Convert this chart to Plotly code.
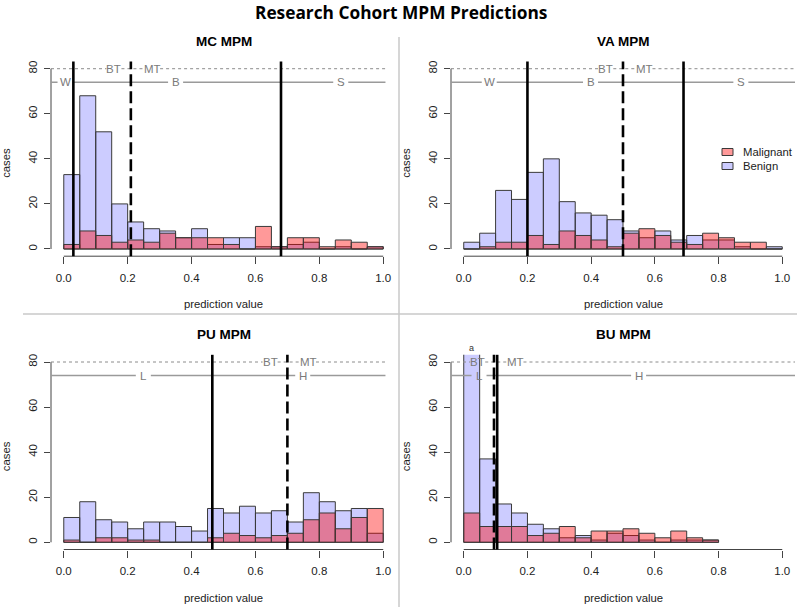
import numpy as np
import plotly.graph_objects as go

# ---------------- data ----------------
bin_edges = np.round(np.arange(0, 1.0001, 0.05), 2)
bin_centers = (bin_edges[:-1] + bin_edges[1:]) / 2
bin_width = 0.05

panel_titles = ["MC MPM", "VA MPM", "PU MPM", "BU MPM"]

mc_benign    = [33, 68, 52, 20, 12, 9, 8, 5, 9, 2, 5, 5, 1, 1, 2, 3, 0, 1, 0, 1]
mc_malignant = [2, 8, 6, 3, 4, 3, 7, 5, 5, 5, 2, 0, 10, 1, 5, 5, 1, 4, 3, 1]

va_benign    = [3, 7, 26, 22, 34, 40, 21, 16, 15, 13, 8, 5, 8, 4, 6, 4, 4, 1, 0, 1]
va_malignant = [0, 1, 3, 3, 6, 2, 8, 6, 4, 1, 7, 9, 6, 3, 2, 7, 5, 3, 3, 0]

pu_benign    = [11, 18, 10, 9, 6, 9, 9, 7, 5, 15, 13, 16, 13, 14, 9, 22, 18, 14, 15, 4]
pu_malignant = [1, 0, 2, 2, 1, 1, 0, 0, 0, 2, 4, 3, 2, 3, 4, 10, 13, 6, 11, 15]

# BU histogram only spans 0.0-0.8 (no bins beyond)
bu_benign    = [95, 37, 17, 13, 8, 6, 2, 3, 1, 4, 3, 1, 0, 1, 1, 1, None, None, None, None]
bu_malignant = [13, 7, 7, 7, 3, 4, 7, 2, 5, 5, 6, 4, 2, 5, 2, 1, None, None, None, None]

benign_series = [mc_benign, va_benign, pu_benign, bu_benign]
malignant_series = [mc_malignant, va_malignant, pu_malignant, bu_malignant]

# threshold lines (solid / dashed)
solid_thresholds = [[0.03, 0.68], [0.20, 0.69], [0.465], [0.105]]
dashed_thresholds = [[0.21], [0.50], [0.70], [0.095]]

# labels on the dotted (y=80) and solid (y=74) reference lines
dotted_labels = [[(0.157, "BT"), (0.278, "MT")],
                 [(0.446, "BT"), (0.569, "MT")],
                 [(0.646, "BT"), (0.766, "MT")],
                 [(0.044, "BT"), (0.164, "MT")]]
solid_labels = [[(0.004, "W"), (0.35, "B"), (0.867, "S")],
                [(0.080, "W"), (0.398, "B"), (0.870, "S")],
                [(0.249, "L"), (0.748, "H")],
                [(0.048, "L"), (0.549, "H")]]
dotted_y = 80
solid_y = 74

x_tickvals = [0, 0.2, 0.4, 0.6, 0.8, 1.0]
x_ticktext = ["0.0", "0.2", "0.4", "0.6", "0.8", "1.0"]
y_tickvals = [0, 20, 40, 60, 80]
y_ticktext = ["0", "20", "40", "60", "80"]

legend_labels = ["Malignant", "Benign"]

# ---------------- layout geometry (pixels) ----------------
W, H = 800, 607
def px(x):
    return x / W
def py(y):
    return 1 - y / H

x_doms_px = [(51, 396), (451, 795), (51, 396), (451, 795)]
y_doms_px = [(61.5, 256.2), (61.5, 256.2), (354.8, 549.5), (354.8, 549.5)]
line_right_end = [1.007, 1.04, 1.007, 1.04]

BENIGN_COL = "rgba(0,0,255,0.2)"
MALIG_COL = "rgba(255,0,0,0.4)"
EDGE_COL = "#3a3a3a"
GRAY = "#8c8c8c"
FONT = "Liberation Sans, Arial, sans-serif"

fig = go.Figure()
layout = dict(
    width=W, height=H, margin=dict(l=0, r=0, t=0, b=0),
    paper_bgcolor="white", plot_bgcolor="white",
    barmode="overlay", showlegend=False,
    font=dict(family=FONT, size=11.5, color="#222"),
)
shapes = []
annotations = []

for i in range(4):
    xa = "x" if i == 0 else f"x{i+1}"
    ya = "y" if i == 0 else f"y{i+1}"
    xkey = "xaxis" if i == 0 else f"xaxis{i+1}"
    ykey = "yaxis" if i == 0 else f"yaxis{i+1}"

    fig.add_trace(go.Bar(x=bin_centers, y=benign_series[i], width=bin_width,
                         marker=dict(color=BENIGN_COL, line=dict(color=EDGE_COL, width=1)),
                         xaxis=xa, yaxis=ya, name="Benign"))
    fig.add_trace(go.Bar(x=bin_centers, y=malignant_series[i], width=bin_width,
                         marker=dict(color=MALIG_COL, line=dict(color=EDGE_COL, width=1)),
                         xaxis=xa, yaxis=ya, name="Malignant"))

    x0p, x1p = x_doms_px[i]
    y0p, y1p = y_doms_px[i]
    layout[xkey] = dict(domain=[px(x0p), px(x1p)], range=[-0.04, 1.04], anchor=ya,
                        showgrid=False, zeroline=False, showline=False,
                        ticks="outside", ticklen=7, tickwidth=1, tickcolor="#444",
                        tickvals=x_tickvals, ticktext=x_ticktext, ticklabelstandoff=4,
                        tickfont=dict(size=11.5, color="#222"), fixedrange=True)
    layout[ykey] = dict(domain=[py(y1p), py(y0p)], range=[-3.2, 83.2], anchor=xa,
                        showgrid=False, zeroline=False, showline=False,
                        ticks="outside", ticklen=6, tickwidth=1, tickcolor="#444",
                        tickvals=y_tickvals, ticktext=y_ticktext, tickangle=-90,
                        ticklabelstandoff=2,
                        tickfont=dict(size=11.5, color="#222"), fixedrange=True)

    # R-style axis lines (only between first and last tick)
    shapes.append(dict(type="line", xref=xa, yref=f"{ya} domain", x0=0, x1=1, y0=0, y1=0,
                       line=dict(color="#444", width=1)))
    shapes.append(dict(type="line", xref=f"{xa} domain", yref=ya, x0=0, x1=0, y0=0, y1=80,
                       line=dict(color="#444", width=1)))

    # reference lines with gaps around labels
    def segs(labels, yv, dash):
        half = 7.5 / 319
        pos = [-0.04]
        for (lx, _t) in sorted(labels):
            pos += [lx - half, lx + half]
        pos.append(line_right_end[i])
        for k in range(0, len(pos), 2):
            a, b = pos[k], pos[k + 1]
            if b > a:
                shapes.append(dict(type="line", xref=xa, yref=ya, x0=a, x1=b, y0=yv, y1=yv,
                                   line=dict(color=GRAY if dash else "#9a9a9a",
                                             width=1 if dash else 1.4,
                                             dash="3px,3px" if dash else "solid")))
        for (lx, t) in labels:
            annotations.append(dict(x=lx, y=yv, xref=xa, yref=ya, text=t, showarrow=False,
                                    font=dict(size=11.5, color="#7a7a7a", family=FONT)))
    segs(dotted_labels[i], dotted_y, True)
    segs(solid_labels[i], solid_y, False)

    for t in solid_thresholds[i]:
        shapes.append(dict(type="line", xref=xa, yref=f"{ya} domain", x0=t, x1=t, y0=0, y1=1,
                           line=dict(color="black", width=2.6)))
    for t in dashed_thresholds[i]:
        shapes.append(dict(type="line", xref=xa, yref=f"{ya} domain", x0=t, x1=t, y0=0, y1=1,
                           line=dict(color="black", width=2.6, dash="12px,5px")))

    # panel title
    annotations.append(dict(x=0.5, xref=xa, y=py(y0p - 20), yref="paper", text=f"<b>{panel_titles[i]}</b>",
                            showarrow=False, font=dict(size=13.5, color="black", family=FONT),
                            yanchor="middle"))
    # axis titles
    annotations.append(dict(x=0.5, xref=xa, y=py(y1p + 48), yref="paper", text="prediction value",
                            showarrow=False, font=dict(size=11.3, color="#222", family=FONT),
                            yanchor="middle"))
    annotations.append(dict(x=px(x0p - 45), xref="paper", y=py((y0p + y1p) / 2 + 4), yref="paper",
                            text="cases", textangle=-90, showarrow=False,
                            font=dict(size=11.3, color="#222", family=FONT),
                            xanchor="center", yanchor="middle"))

# "a" marker above clipped BU bar
annotations.append(dict(x=bin_centers[0], xref="x4", y=py(348), yref="paper", text="a",
                        showarrow=False, font=dict(size=9, color="#333", family=FONT)))

# legend (top-right panel)
leg_cols = [MALIG_COL, BENIGN_COL]
for k, (lab, col) in enumerate(zip(legend_labels, leg_cols)):
    yc = 152 + 14 * k
    shapes.append(dict(type="rect", xref="paper", yref="paper",
                       x0=px(722), x1=px(733), y0=py(yc + 3.5), y1=py(yc - 3.5),
                       fillcolor=col, line=dict(color=EDGE_COL, width=1)))
    annotations.append(dict(x=px(741), y=py(yc), xref="paper", yref="paper", text=lab,
                            showarrow=False, xanchor="left", yanchor="middle",
                            font=dict(size=11.3, color="#222", family=FONT)))

# panel dividers
shapes.append(dict(type="line", xref="paper", yref="paper", x0=px(399), x1=px(399),
                   y0=py(37), y1=0, line=dict(color="#c8c8c8", width=1.5)))
shapes.append(dict(type="line", xref="paper", yref="paper", x0=px(23), x1=px(797),
                   y0=py(314), y1=py(314), line=dict(color="#c8c8c8", width=1.5)))

# main title
annotations.append(dict(x=px(401), y=py(13), xref="paper", yref="paper",
                        text="<b>Research Cohort MPM Predictions</b>", showarrow=False,
                        font=dict(size=17.3, color="black", family="Open Sans, sans-serif"),
                        xanchor="center", yanchor="middle"))

layout["shapes"] = shapes
layout["annotations"] = annotations
fig.update_layout(**layout)

fig.write_html("out.html", include_plotlyjs=True, config={"displayModeBar": False},
               post_script="document.body.style.margin='0';")
